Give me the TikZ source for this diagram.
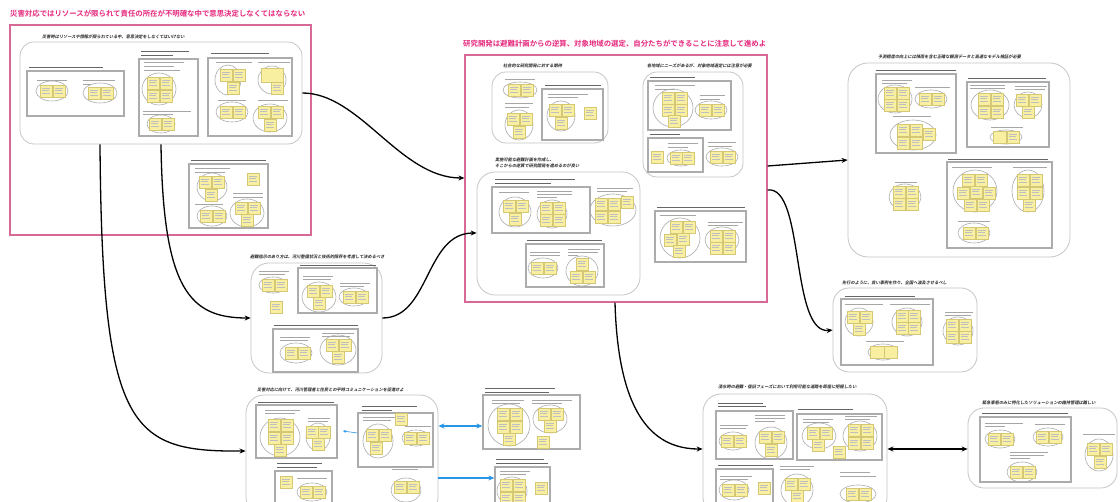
\documentclass[tikz,border=0pt]{standalone}
\usepackage{fontspec}
\usetikzlibrary{arrows.meta,fit}
\newfontfamily\jpb{Noto Sans CJK JP Bold}
\newfontfamily\jpit{Noto Sans CJK JP Bold}[FakeSlant=0.2]
\definecolor{pinkT}{RGB}{230,40,125}
\definecolor{pinkB}{RGB}{214,105,150}
\definecolor{rgray}{RGB}{198,198,198}
\definecolor{bgray}{RGB}{172,172,172}
\definecolor{egray}{RGB}{172,172,172}
\definecolor{noteF}{RGB}{248,240,160}
\definecolor{noteD}{RGB}{212,200,118}
\definecolor{blueC}{RGB}{40,150,230}
\tikzset{
  roundbox/.style={draw=rgray, line width=0.8pt, rounded corners=14pt, inner sep=0pt},
  pinkbox/.style={draw=pinkB, line width=1.2pt, inner sep=0pt},
  graybox/.style={draw=bgray, line width=1.3pt, inner sep=0pt},
  grp/.style={draw=egray, line width=0.6pt},
  sticky/.style={draw=noteD, fill=noteF, line width=0.4pt},
  notetext/.style={draw=black!25, line width=0.3pt},
  lblbar/.style={draw=black!35, line width=0.6pt},
  hdrbar/.style={draw=black!60, line width=0.9pt},
  title/.style={anchor=west, inner sep=0pt, text=pinkT, font=\jpb\fontsize{7.4}{8}\selectfont},
  glabel/.style={anchor=west, inner sep=0pt, text=black!85, font=\jpit\fontsize{4.2}{6}\selectfont},
  conn/.style={draw=black, line width=1.3pt, -{Stealth[length=6pt,width=5pt]}},
  bconn/.style={draw=blueC, line width=1.3pt},
}
\newcommand\stk[2]{\draw[sticky] (#1,#2) rectangle ++(12,12); \draw[notetext] (#1,#2) ++(2,3) -- ++(8,0) ++(-8,2.5) -- ++(7,0) ++(-7,2.5) -- ++(8,0);}
\newcommand\lb[3]{\draw[lblbar] (#1,#2) -- ++(#3,0);}
\newcommand\hb[3]{\draw[hdrbar] (#1,#2) -- ++(#3,0);}
\newcommand\elp[4]{\draw[grp] (#1,#2) ellipse [x radius=#3, y radius=#4];}
\begin{document}
\begin{tikzpicture}[x=1pt,y=-1pt]
\fill[white] (0,0) rectangle (1120,502);
\useasboundingbox (0,0) rectangle (1120,502);

% ---------------- pink block 1
\node[title] (t1) at (10,14) {災害対応ではリソースが限られて責任の所在が不明確な中で意思決定しなくてはならない};
\node[pinkbox, fit={(10,25) (311,235)}] (P1) {};
\node[glabel] (l1) at (42,37) {災害時はリソースや情報が限られている中、意思決定をしなくてはいけない};
\node[roundbox, fit={(20,42) (302,144)}] (A) {};
\hb{29}{67}{74}
\node[graybox, fit={(27,71) (124,116)}] (A1) {};
\lb{37}{80}{30} \lb{83}{80}{32} \lb{83}{84}{8}
\elp{52}{91}{16}{10} \stk{40}{85} \stk{53}{85}
\elp{100}{93}{17}{10} \stk{88}{87} \stk{101}{87}
\hb{141}{51}{48} \hb{141}{55}{32}
\node[graybox, fit={(139,59) (198,136)}] (A2) {};
\lb{144}{62}{40} \lb{144}{66}{30} \lb{144}{70}{36}
\elp{159}{89}{17}{16} \stk{147}{77} \stk{160}{77} \stk{147}{90} \stk{160}{90}
\lb{143}{111}{48} \lb{143}{114}{30}
\elp{161}{124}{14}{9} \stk{149}{118} \stk{162}{118}
\hb{211}{53}{58}
\node[graybox, fit={(208,58) (292,136)}] (A3) {};
\lb{216}{62}{36} \lb{258}{62}{32}
\elp{228}{80}{13}{15} \stk{220}{69} \stk{233}{69} \stk{227}{82}
\elp{272}{80}{14}{14} \draw[sticky] (261,68) rectangle (283,82); \stk{271}{82}
\lb{218}{100}{28}
\elp{232}{112}{16}{10} \stk{220}{106} \stk{233}{106}
\lb{258}{100}{30}
\elp{270}{118}{17}{14} \stk{258}{106} \stk{271}{106} \stk{264}{119}
\hb{191}{160}{75}
\node[graybox, fit={(189,164) (268,228)}] (A4) {};
\lb{195}{168}{35} \lb{195}{172}{30}
\elp{212}{187}{15}{14} \stk{199}{176} \stk{212}{176} \stk{205}{189}
\stk{247}{173}
\lb{195}{204}{28}
\elp{212}{216}{15}{10} \stk{200}{210} \stk{213}{210}
\lb{233}{193}{30} \lb{233}{197}{30}
\elp{247}{213}{17}{14} \stk{235}{202} \stk{248}{202} \stk{241}{214}

% ---------------- pink block 2
\node[title] (t2) at (463,44) {研究開発は避難計画からの逆算、対象地域の選定、自分たちができることに注意して進めよ};
\node[pinkbox, fit={(465,55) (767,302)}] (P2) {};
\node[glabel] (l2) at (503,66) {社会的な研究開発に対する期待};
\node[roundbox, fit={(492,72) (608,143)}] (B1) {};
\lb{505}{79}{30}
\elp{520}{90}{17}{8} \stk{508}{84} \stk{521}{84}
\lb{505}{103}{28} \lb{505}{107}{24}
\elp{519}{125}{14}{15} \stk{507}{113} \stk{520}{113} \stk{513}{126}
\hb{545}{85}{56}
\node[graybox, fit={(542,89) (603,140)}] (B2) {};
\lb{548}{94}{40} \lb{548}{97}{30}
\elp{561}{116}{14}{15} \stk{549}{104} \stk{562}{104} \stk{555}{117}
\stk{584}{107}
\node[glabel] (l3) at (647,66) {各地域にニーズがあるが、対象地域選定には注意が必要};
\node[roundbox, fit={(643,72) (743,177)}] (B3) {};
\hb{650}{77}{45}
\node[graybox, fit={(648,81) (731,130)}] (B4) {};
\lb{655}{85}{40} \lb{655}{89}{20}
\elp{673}{108}{20}{19} \stk{662}{92} \stk{675}{92} \stk{662}{104} \stk{675}{104} \stk{668}{115}
\lb{700}{95}{25} \lb{700}{99}{20}
\elp{711}{110}{16}{9} \stk{699}{104} \stk{712}{104}
\hb{650}{134}{30}
\node[graybox, fit={(648,138) (703,172)}] (B5) {};
\stk{651}{151}
\lb{668}{143}{30} \lb{668}{147}{20}
\elp{681}{158}{14}{8} \stk{670}{152} \stk{682}{152}
\lb{708}{142}{28} \lb{708}{146}{24}
\elp{722}{157}{16}{9} \stk{710}{151} \stk{723}{151}
\node[glabel, align=left] (l4) at (495,163) {実施可能な避難計画を作成し、\\そこからの逆算で研究開発を進めるのが良い};
\node[roundbox, rounded corners=18pt, fit={(477,172) (640,295)}] (C) {};
\hb{495}{179}{80} \hb{495}{183}{56}
\node[graybox, fit={(492,187) (590,233)}] (C1) {};
\lb{499}{192}{30}
\elp{515}{212}{16}{15} \stk{503}{200} \stk{516}{200} \stk{509}{213}
\lb{537}{191}{35} \lb{537}{194}{35} \lb{537}{197}{20}
\elp{552}{214}{15}{14} \stk{540}{202} \stk{553}{202} \stk{540}{214} \stk{553}{214}
\lb{597}{188}{36} \lb{597}{191}{30}
\elp{613}{210}{23}{16} \stk{595}{198} \stk{608}{198} \stk{621}{196} \stk{595}{211} \stk{608}{211}
\hb{527}{240}{75}
\node[graybox, fit={(526,244) (604,287)}] (C2) {};
\lb{530}{252}{30} \lb{530}{255}{30}
\elp{543}{268}{15}{10} \stk{531}{262} \stk{544}{262}
\lb{568}{249}{32} \lb{568}{252}{30} \lb{568}{255}{10}
\elp{582}{271}{16}{15} \stk{576}{258} \stk{570}{271} \stk{583}{271}
\hb{657}{207}{88}
\node[graybox, fit={(655,211) (746,262)}] (D) {};
\lb{660}{215}{36}
\elp{680}{238}{20}{20} \stk{670}{221} \stk{683}{221} \stk{664}{234} \stk{677}{233} \stk{673}{245}
\lb{708}{222}{35} \lb{708}{225}{30}
\elp{722}{240}{17}{13} \stk{710}{230} \stk{723}{230} \stk{710}{242} \stk{723}{242}

% ---------------- box E
\node[glabel] (l5) at (878,57) {予測精度の向上には降雨を含む正確な観測データと高速なモデル検証が必要};
\node[roundbox, rounded corners=20pt, fit={(848,63) (1070,257)}] (E) {};
\hb{876}{70}{80}
\node[graybox, fit={(876,74) (956,153)}] (E1) {};
\lb{882}{80}{30} \lb{882}{83}{25}
\elp{895}{99}{17}{14} \stk{884}{87} \stk{897}{87} \stk{884}{99} \stk{897}{99}
\lb{915}{87}{35}
\elp{931}{99}{16}{9} \stk{919}{93} \stk{932}{93}
\lb{893}{116}{38}
\elp{913}{135}{23}{15} \stk{897}{124} \stk{910}{124} \stk{923}{128} \stk{897}{137} \stk{910}{137}
\hb{968}{78}{78}
\node[graybox, fit={(967,82) (1049,147)}] (E2) {};
\lb{970}{85}{35} \lb{970}{88}{35}
\elp{990}{105}{19}{15} \stk{978}{93} \stk{991}{93} \stk{978}{106} \stk{991}{106}
\lb{1015}{86}{32} \lb{1015}{89}{30}
\elp{1028}{105}{14}{13} \stk{1016}{94} \stk{1029}{94} \stk{1022}{106}
\lb{991}{127}{32}
\elp{1006}{137}{16}{7} \draw[sticky] (993,131) rectangle (1006,143); \stk{1007}{131}
\lb{895}{182}{22}
\elp{905}{197}{16}{13} \stk{893}{186} \stk{906}{186} \stk{893}{198} \stk{906}{198}
\hb{948}{159}{100}
\node[graybox, fit={(947,162) (1052,248)}] (E3) {};
\lb{952}{167}{40}
\elp{975}{191}{22}{21} \stk{962}{174} \stk{975}{174} \stk{957}{187} \stk{970}{186} \stk{983}{187} \stk{964}{199} \stk{977}{199}
\lb{1013}{167}{34}
\elp{1028}{191}{16}{21} \stk{1017}{174} \stk{1030}{174} \stk{1017}{187} \stk{1030}{187} \stk{1023}{199}
\lb{958}{221}{32}
\elp{974}{233}{16}{10} \stk{963}{227} \stk{976}{227}

% ---------------- box F
\node[glabel] (l6) at (250,257) {避難指示のあり方は、河川整備状況と技術的限界を考慮して決めるべき};
\node[roundbox, rounded corners=18pt, fit={(251,263) (382,373)}] (F) {};
\lb{259}{271}{30} \lb{259}{274}{26}
\elp{273}{285}{14}{8} \stk{262}{279} \stk{275}{279}
\stk{270}{301}
\hb{300}{265}{76}
\node[graybox, fit={(298,268) (377,313)}] (F1) {};
\lb{303}{276}{30} \lb{303}{279}{28}
\elp{319}{297}{17}{15} \stk{307}{285} \stk{320}{285} \stk{313}{297}
\lb{340}{283}{30} \lb{340}{286}{24}
\elp{354}{297}{15}{9} \stk{343}{291} \stk{356}{291}
\hb{274}{325}{84}
\node[graybox, fit={(273,329) (358,372)}] (F2) {};
\lb{280}{337}{30} \lb{280}{340}{28}
\elp{296}{353}{16}{10} \stk{285}{347} \stk{298}{347}
\lb{322}{333}{32} \lb{322}{336}{28}
\elp{338}{350}{18}{15} \stk{326}{339} \stk{339}{339} \stk{332}{351}

% ---------------- box G
\node[glabel] (l7) at (842,283) {先行のように、良い事例を作り、全国へ波及させるべし};
\node[roundbox, rounded corners=16pt, fit={(833,288) (977,372)}] (G) {};
\hb{845}{296}{70}
\node[graybox, fit={(841,299) (933,365)}] (G1) {};
\lb{845}{304}{38}
\elp{859}{322}{14}{14} \stk{847}{311} \stk{860}{311} \stk{853}{323}
\lb{890}{304}{40}
\elp{907}{322}{15}{14} \stk{896}{310} \stk{908}{310} \stk{896}{322} \stk{908}{322}
\lb{866}{341}{38}
\elp{883}{352}{15}{8} \draw[sticky] (870,346) rectangle (884,358); \draw[sticky] (884,346) rectangle (897,358);
\lb{945}{312}{28} \lb{945}{315}{26}
\elp{958}{331}{15}{14} \stk{946}{319} \stk{959}{319} \stk{946}{331} \stk{959}{331}

% ---------------- box H
\node[glabel] (l8) at (257,390) {災害対応に向けて、河川管理者と住民との平時コミュニケーションを促進せよ};
\node[roundbox, rounded corners=18pt, fit={(246,395) (438,515)}] (H) {};
\hb{258}{402}{76}
\node[graybox, fit={(256,405) (337,458)}] (H1) {};
\lb{265}{410}{35} \lb{265}{413}{30}
\elp{280}{437}{20}{19} \stk{268}{419} \stk{281}{419} \stk{268}{432} \stk{281}{432} \stk{274}{444}
\lb{308}{418}{22} \lb{308}{421}{20}
\elp{318}{437}{12}{14} \stk{306}{426} \stk{318}{426} \stk{312}{438}
\hb{362}{406}{55} \hb{362}{410}{30}
\node[graybox, fit={(358,413) (433,467)}] (H2) {};
\lb{363}{417}{32} \lb{363}{420}{28}
\elp{378}{441}{15}{17} \stk{366}{429} \stk{379}{429} \stk{370}{442}
\stk{395}{413}
\lb{405}{426}{26}
\elp{416}{438}{14}{8} \stk{404}{432} \stk{417}{432}
\hb{277}{463}{45} \hb{277}{467}{40}
\node[graybox, fit={(275,471) (332,515)}] (H3) {};
\stk{280}{476}
\lb{297}{478}{30}
\elp{312}{492}{15}{9} \stk{300}{486} \stk{313}{486}
\lb{392}{466}{30} \lb{392}{469}{26}
\elp{406}{490}{15}{12} \stk{394}{481} \stk{407}{481}
\coordinate (hx) at (343,431);
\draw[bconn, line width=0.6pt, -{Stealth[length=3pt,width=3pt]}] (H2.west |- 0,433) -- (hx);

% ---------------- boxes I, J
\hb{485}{388}{70} \hb{485}{392}{64}
\node[graybox, fit={(483,395) (580,449)}] (I) {};
\lb{492}{400}{32} \lb{492}{403}{28}
\elp{509}{425}{21}{21} \stk{497}{408} \stk{510}{408} \stk{497}{421} \stk{510}{421} \stk{503}{433}
\lb{532}{400}{40} \lb{532}{403}{30}
\elp{550}{419}{17}{14} \stk{538}{408} \stk{551}{408} \stk{544}{420}
\stk{537}{436}
\hb{496}{459}{48} \hb{496}{463}{52}
\node[graybox, fit={(495,467) (550,515)}] (J) {};
\lb{500}{471}{30} \lb{500}{474}{26}
\elp{512}{491}{15}{14} \stk{500}{479} \stk{513}{479} \stk{500}{492} \stk{513}{492}
\stk{535}{482}

% ---------------- box K
\node[glabel] (l9) at (718,387) {浸水時の避難・復旧フェーズにおいて利用可能な道路を即座に把握したい};
\node[roundbox, rounded corners=18pt, fit={(703,394) (887,515)}] (K) {};
\hb{718}{403}{45} \hb{718}{406}{48}
\node[graybox, fit={(716,411) (793,459)}] (K1) {};
\lb{720}{425}{28} \lb{720}{428}{26}
\elp{733}{441}{14}{9} \stk{721}{435} \stk{734}{435}
\lb{755}{415}{30} \lb{755}{418}{30} \lb{755}{421}{20}
\elp{771}{443}{16}{16} \stk{759}{431} \stk{772}{431} \stk{765}{444}
\hb{798}{409}{55}
\node[graybox, fit={(797,414) (882,460)}] (K2) {};
\lb{803}{419}{30} \lb{803}{422}{26}
\elp{819}{436}{17}{13} \stk{807}{427} \stk{820}{427} \stk{812}{439}
\lb{845}{416}{32} \lb{845}{419}{25}
\elp{860}{436}{17}{15} \stk{848}{424} \stk{861}{424} \stk{848}{437} \stk{861}{437}
\stk{833}{446}
\hb{718}{465}{55}
\node[graybox, fit={(716,469) (773,515)}] (K3) {};
\lb{720}{476}{32} \lb{720}{479}{28}
\elp{734}{490}{15}{10} \stk{722}{484} \stk{735}{484}
\stk{758}{482}
\lb{780}{466}{34} \lb{780}{469}{30}
\elp{797}{490}{16}{16} \stk{785}{478} \stk{798}{478} \stk{791}{490}
\lb{840}{472}{30} \lb{840}{476}{36}
\elp{858}{494}{18}{9} \stk{846}{488} \stk{859}{488}

% ---------------- box L
\node[glabel] (l10) at (982,403) {緊急事態のみに特化したソリューションの維持管理は難しい};
\node[roundbox, rounded corners=16pt, fit={(968,408) (1117,488)}] (L) {};
\hb{982}{413}{86}
\node[graybox, fit={(980,417) (1071,482)}] (L1) {};
\lb{985}{423}{38} \lb{985}{426}{20}
\elp{1000}{439}{15}{9} \stk{988}{433} \stk{1001}{433}
\lb{1035}{424}{30}
\elp{1048}{437}{15}{9} \stk{1036}{431} \stk{1049}{431}
\lb{1010}{452}{38} \lb{1010}{455}{34} \lb{1010}{458}{20}
\elp{1022}{472}{15}{10} \stk{1010}{466} \stk{1023}{466}
\lb{1083}{434}{32}
\elp{1099}{455}{14}{16} \stk{1087}{443} \stk{1100}{443} \stk{1094}{456}

% ---------------- connectors
\draw[conn] (A.south -| 100,0) .. controls (102,430) and (130,452) .. (H.west |- 0,451);
\draw[conn] (A.south -| 161,0) .. controls (163,290) and (190,318) .. (F.west);
\draw[conn] (A.east) .. controls (360,93) and (400,178) .. (P2.west |- 0,178);
\draw[conn] (F.east) .. controls (430,318) and (425,233) .. (C.west |- 0,233);
\draw[conn] (P2.east |- 0,166) -- (E.west);
\draw[conn] (P2.east |- 0,190) .. controls (805,185) and (790,335) .. (G.west);
\draw[conn] (P2.south -| 615,0) .. controls (618,410) and (650,449) .. (K.west |- 0,449);
\draw[conn, {Stealth[length=6pt,width=5pt]}-{Stealth[length=6pt,width=5pt]}] (K.east |- 0,449) -- (L.west |- 0,449);
\draw[bconn, {Stealth[length=6pt,width=5pt]}-{Stealth[length=6pt,width=5pt]}] (H.east |- 0,426) -- (I.west |- 0,426);
\draw[bconn, -{Stealth[length=6pt,width=5pt]}] (H.east |- 0,478) -- (J.west |- 0,478);
\end{tikzpicture}
\end{document}
